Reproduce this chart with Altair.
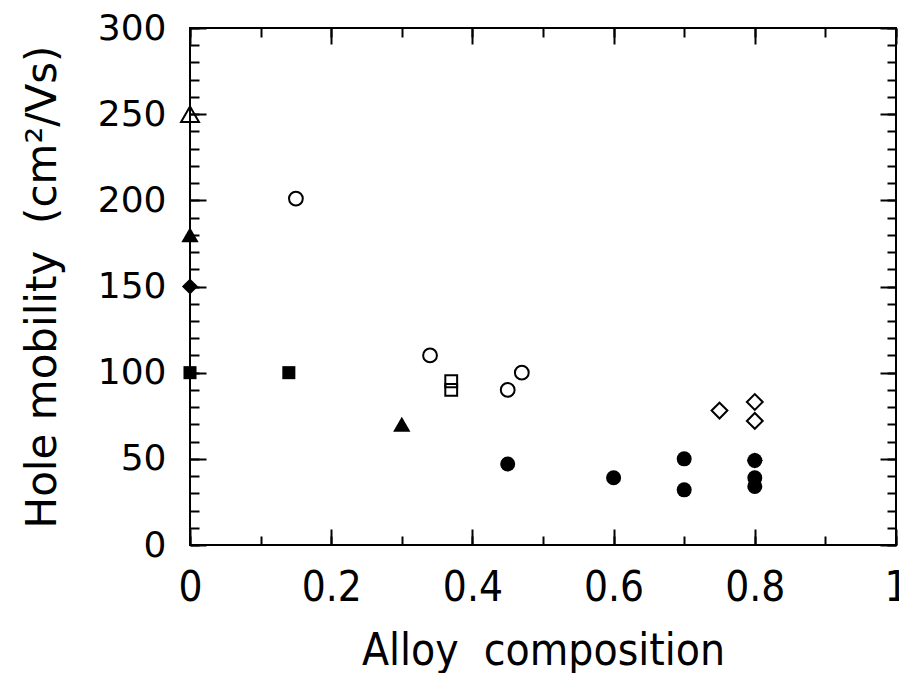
import altair as alt
import pandas as pd

# ---- data ----
open_tri_x = [0.0]
open_tri_y = [250]
filled_tri_x = [0.0, 0.30]
filled_tri_y = [180, 70]
filled_dia_x = [0.0, 0.80]
filled_dia_y = [150, 49]
filled_sq_x = [0.0, 0.14]
filled_sq_y = [100, 100]
open_circ_x = [0.15, 0.34, 0.45, 0.47]
open_circ_y = [201, 110, 90, 100]
open_sq_x = [0.37, 0.37]
open_sq_y = [95, 90]
filled_circ_x = [0.45, 0.60, 0.70, 0.70, 0.80, 0.80, 0.80]
filled_circ_y = [47, 39, 50, 32, 49, 39, 34]
open_dia_x = [0.75, 0.80, 0.80]
open_dia_y = [78, 83, 72]

x_label_values = [0, 0.2, 0.4, 0.6, 0.8, 1]
x_minor_values = [0, 0.1, 0.2, 0.3, 0.4, 0.5, 0.6, 0.7, 0.8, 0.9, 1.0]
y_label_values = [0, 50, 100, 150, 200, 250, 300]
y_minor_values = list(range(0, 301, 10))

X_TITLE = "Alloy\u00a0\u00a0composition"
Y_TITLE = "Hole mobility\u00a0\u00a0(cm\u00b2/Vs)"

W, H = 706, 517
MAJ, MIN = 16, 9

xscale = alt.Scale(domain=[0, 1], nice=False, zero=False)
yscale = alt.Scale(domain=[0, 300], nice=False, zero=False)

NARROW = "DejaVu Sans Condensed"
SANS = "DejaVu Sans"


def tick_axis(orient, values, size):
    return alt.Axis(orient=orient, values=values, ticks=True, tickSize=size,
                    tickWidth=2, tickColor="black", labels=False, domain=False,
                    grid=False, title=None, offset=-size)


x_labels_axis = alt.Axis(orient="bottom", values=x_label_values, format="~g",
                         ticks=False, domain=False, grid=False,
                         labelFont=NARROW, labelFontSize=42, labelColor="black",
                         labelPadding=22, labelFlush=False, labelOverlap=False,
                         title=X_TITLE, titleFont=NARROW,
                         titleFontSize=44, titleFontWeight="normal",
                         titleColor="black", titleY=106, titleBaseline="middle")
y_labels_axis = alt.Axis(orient="left", values=y_label_values, format="d",
                         ticks=False, domain=False, grid=False,
                         labelFont=SANS, labelFontSize=36, labelColor="black",
                         labelPadding=24, labelFlush=False, labelOverlap=False,
                         title=Y_TITLE, titleFont=SANS,
                         titleFontSize=42, titleFontWeight="normal",
                         titleColor="black", titleX=-148, titleBaseline="middle",
                         titleAngle=-90)

x_axes = [x_labels_axis,
          tick_axis("bottom", x_label_values, MAJ),
          tick_axis("bottom", x_minor_values, MIN),
          tick_axis("top", x_label_values, MAJ),
          tick_axis("top", x_minor_values, MIN)]
y_axes = [y_labels_axis,
          tick_axis("left", y_label_values, MAJ),
          tick_axis("left", y_minor_values, MIN),
          tick_axis("right", y_label_values, MAJ),
          tick_axis("right", y_minor_values, MIN)]

series = [
    (open_tri_x, open_tri_y, "triangle-up", False, 320),
    (filled_tri_x, filled_tri_y, "triangle-up", True, 300),
    (filled_dia_x, filled_dia_y, "diamond", True, 260),
    (filled_sq_x, filled_sq_y, "square", True, 170),
    (open_circ_x, open_circ_y, "circle", False, 190),
    (open_sq_x, open_sq_y, "square", False, 140),
    (filled_circ_x, filled_circ_y, "circle", True, 225),
    (open_dia_x, open_dia_y, "diamond", False, 250),
]

layers = []
for i, (xs, ys, shape, filled, size) in enumerate(series):
    df = pd.DataFrame({"x": xs, "y": ys})
    xa = x_axes[i] if i < len(x_axes) else None
    ya = y_axes[i] if i < len(y_axes) else None
    if filled:
        mk = dict(shape=shape, filled=True, size=size, color="black",
                  opacity=1, strokeWidth=1)
    else:
        mk = dict(shape=shape, filled=False, size=size, stroke="black",
                  opacity=1, strokeWidth=2)
    layer = alt.Chart(df).mark_point(**mk).encode(
        x=alt.X("x:Q", scale=xscale, axis=xa),
        y=alt.Y("y:Q", scale=yscale, axis=ya),
    )
    layers.append(layer)

chart = alt.layer(*layers).resolve_scale(x="shared", y="shared").resolve_axis(
    x="independent", y="independent"
).properties(
    width=W, height=H,
    autosize=alt.AutoSizeParams(type="none"),
    padding={"left": 190, "top": 28, "right": 3, "bottom": 128},
    background="white",
).configure_view(stroke="black", strokeWidth=2)

chart.save("out.html", embed_options={"renderer": "svg", "actions": False})
